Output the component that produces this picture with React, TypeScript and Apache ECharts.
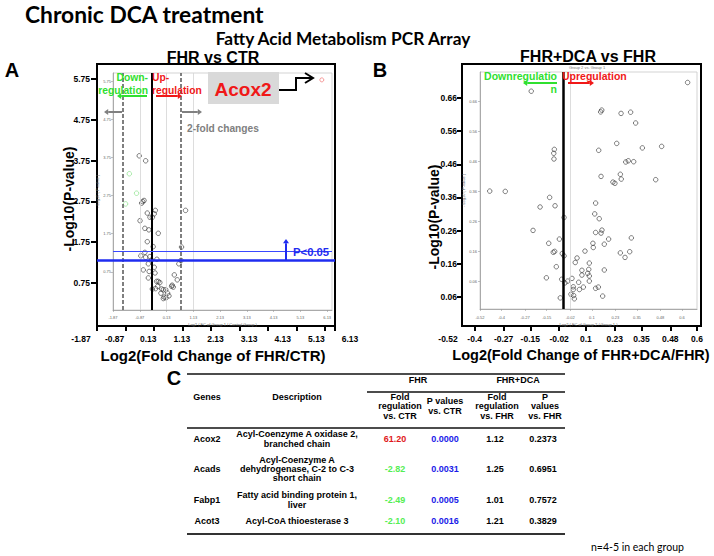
import React, { useEffect, useRef } from 'react';
import * as echarts from 'echarts';

// ---------------- Data ----------------
// Panel A tick labels (outer and inner axes)
const aTicksX = [-1.87, -0.87, 0.13, 1.13, 2.13, 3.13, 4.13, 5.13, 6.13];
const aTicksY = [0.75, 1.75, 2.75, 3.75, 4.75, 5.75];
// Panel B tick labels
const bTicksX = [-0.52, -0.4, -0.27, -0.15, -0.02, 0.1, 0.23, 0.35, 0.48, 0.6];
const bTicksY = [0.06, 0.16, 0.26, 0.36, 0.46, 0.56, 0.66];

// Panel A points: [log2 fold change, -log10 p]
const aNotChanged = [
  [-0.89, 3.79], [-0.65, 3.66], [-0.76, 2.59], [-0.8, 2.55], [-0.71, 2.62], [-0.59, 2.29],
  [-0.29, 2.36], [-0.33, 2.27], [-0.4, 2.18], [-0.49, 2.18], [-0.86, 2.09], [-0.68, 1.89],
  [-0.53, 1.85], [-0.18, 1.76], [-0.59, 1.54], [-0.37, 1.41], [-0.68, 1.26], [-0.83, 1.17],
  [-0.23, 1.08], [-0.43, 1.06], [-0.65, 1.13], [-0.49, 1.15], [-0.74, 0.8], [-0.55, 0.96],
  [-0.52, 0.76], [-0.33, 0.87], [-0.3, 0.72], [-0.55, 0.59], [-0.24, 0.5], [-0.18, 0.5],
  [-0.12, 0.47], [-0.2, 0.37], [-0.4, 0.3], [-0.28, 0.31], [-0.05, 0.3], [0.01, 0.28],
  [-0.08, 0.19], [0.1, 0.28], [0.17, 0.19], [0.04, 0.09], [0.11, 0.07], [0.22, 0.12],
  [0.01, 0.05], [0.32, 0.37], [0.34, 0.4], [0.38, 0.35], [0.42, 0.67], [0.53, 0.54],
  [0.59, 0.96], [0.67, 1.05], [0.69, 1.4], [0.84, 2.36],
];
const aDown = [[-1.26, 3.32], [-0.99, 2.81], [-1.4, 2.53]];
const aUp = [[5.93, 5.78]];

// Panel B points
const bPoints = [
  [0.631, 0.722], [-0.236, 0.693], [0.149, 0.624], [0.155, 0.63], [0.262, 0.619], [0.315, 0.623],
  [0.343, 0.587], [0.238, 0.519], [0.138, 0.496], [0.38, 0.504], [0.487, 0.509], [-0.108, 0.499],
  [-0.111, 0.486], [-0.11, 0.467], [0.302, 0.461], [0.288, 0.457], [0.332, 0.458], [0.151, 0.409],
  [0.258, 0.416], [0.263, 0.4], [0.217, 0.39], [0.228, 0.386], [0.454, 0.398], [-0.466, 0.36],
  [-0.38, 0.359], [-0.134, 0.339], [-0.187, 0.307], [-0.104, 0.311], [0.121, 0.32], [0.116, 0.284],
  [-0.054, 0.272], [0.141, 0.268], [-0.226, 0.229], [0.121, 0.222], [0.151, 0.22], [0.156, 0.23],
  [0.193, 0.2], [0.319, 0.204], [-0.08, 0.2], [-0.139, 0.186], [0.106, 0.186], [0.108, 0.172],
  [0.169, 0.183], [-0.106, 0.159], [-0.114, 0.156], [-0.064, 0.152], [-0.054, 0.144], [0.062, 0.16],
  [0.258, 0.154], [0.31, 0.158], [0.284, 0.139], [0.018, 0.137], [-0.097, 0.108], [0.008, 0.122],
  [0.086, 0.12], [0.045, 0.096], [0.083, 0.099], [0.169, 0.097], [0.077, 0.086], [0.045, 0.08],
  [0.086, 0.077], [-0.152, 0.071], [-0.067, 0.066], [-0.01, 0.069], [-0.034, 0.06], [-0.049, 0.054],
  [0.027, 0.056], [0.086, 0.06], [-0.003, 0.041], [-0.003, 0.032], [0.031, 0.032], [0.053, 0.04],
  [0.121, 0.036], [0.136, 0.04], [-0.016, 0.016], [-0.001, 0.012], [0.003, 0.001], [-0.075, 0.004],
  [0.16, 0.01],
];

// Reference lines
const pThreshold = 1.3; // -log10(0.05)
const aFoldLines = [-1.5, 0.67];
const aZeroLine = -0.415;
const aGridLines = [-0.87, 0.13, 1.13];
const bZeroLine = -0.062;
const bGridLine = -0.02;

// Table
const tableGenes = ['Acox2', 'Acads', 'Fabp1', 'Acot3'];
const tableDesc = [
  'Acyl-Coenzyme A oxidase 2,\nbranched chain',
  'Acyl-Coenzyme A\ndehydrogenase, C-2 to C-3\nshort chain',
  'Fatty acid binding protein 1,\nliver',
  'Acyl-CoA thioesterase 3',
];
const foldFHR = [61.2, -2.82, -2.49, -2.1];
const pFHR = [0.0, 0.0031, 0.0005, 0.0016];
const foldDCA = [1.12, 1.25, 1.01, 1.21];
const pDCA = [0.2373, 0.6951, 0.7572, 0.3829];

// ---------------- Styles ----------------
const ARIAL = '"Liberation Sans", Arial, sans-serif';
const CAL = 'Lato, "Open Sans", sans-serif';
const GREEN = '#2fe02f';
const RED = '#f01818';
const BLUE = '#1f2cf0';

function arrow(x1: number, y1: number, x2: number, y2: number, color: string, w: number, h = 3.5): any[] {
  const dx = x2 - x1;
  const dy = y2 - y1;
  const len = Math.hypot(dx, dy);
  const ux = dx / len;
  const uy = dy / len;
  const bx = x2 - ux * h * 1.4;
  const by = y2 - uy * h * 1.4;
  return [
    { type: 'line', z: 100, shape: { x1, y1, x2: bx, y2: by }, style: { stroke: color, lineWidth: w } },
    {
      type: 'polygon', z: 100,
      shape: { points: [[x2, y2], [bx - uy * h, by + ux * h], [bx + uy * h, by - ux * h]] },
      style: { fill: color },
    },
  ];
}

function txt(text: string, x: number, y: number, o: any = {}): any {
  return {
    type: 'text', z: 100, x, y, rotation: o.rotation || 0,
    style: {
      text,
      fill: o.color || '#000',
      fontSize: o.size || 9,
      fontWeight: o.weight || 'bold',
      fontFamily: o.family || ARIAL,
      align: o.align || 'center',
      verticalAlign: 'middle',
      lineHeight: o.lineHeight,
    },
  };
}

function hline(x1: number, x2: number, y: number, w: number, color = '#111'): any {
  return { type: 'line', z: 100, shape: { x1, y1: y, x2, y2: y }, style: { stroke: color, lineWidth: w } };
}

const pointStyle = (c: string) => ({ color: 'rgba(0,0,0,0)', borderColor: c, borderWidth: 0.8 });

export default function App() {
  const ref = useRef<HTMLDivElement>(null);
  useEffect(() => {
    if (!ref.current) return;
    const chart = echarts.init(ref.current, null, { renderer: 'svg' });

    const outerLabel = { fontSize: 8.5, fontWeight: 'bold', fontFamily: ARIAL, color: '#000' };
    const innerLabel = { fontSize: 4, fontFamily: ARIAL, color: '#666' };
    const innerName = { fontSize: 4, fontFamily: ARIAL, color: '#666' };
    const blackLine = { show: true, onZero: false, lineStyle: { color: '#000', width: 2 } };
    const grayLine = { show: true, onZero: false, lineStyle: { color: '#999', width: 0.8 } };
    const noLine = { show: false, onZero: false };

    const xAxis: any[] = [
      // 0: A frame
      {
        gridIndex: 0, type: 'value', min: 0, max: 8.35, interval: 1,
        axisLine: blackLine, axisTick: { show: true, length: 5, lineStyle: { color: '#000', width: 2 } },
        axisLabel: { show: false }, splitLine: { show: false },
      },
      // 1: A outer labels
      {
        gridIndex: 1, type: 'value', min: -1.87, max: 6.13,
        axisLine: noLine, axisTick: { show: false }, splitLine: { show: false },
        axisLabel: { ...outerLabel, margin: 8, customValues: aTicksX, showMinLabel: true, showMaxLabel: true, formatter: (v: number) => v.toFixed(2) },
      },
      // 2: A inner
      {
        gridIndex: 2, type: 'value', min: -1.87, max: 6.31,
        axisLine: grayLine, axisTick: { show: true, length: 2, customValues: aTicksX, lineStyle: { color: '#999', width: 0.6 } },
        axisLabel: { ...innerLabel, margin: 5, customValues: aTicksX, showMinLabel: true, formatter: (v: number) => v.toFixed(2) },
        splitLine: { show: false },
        name: 'Log2 ( FC of Group 1 / Control Group )', nameLocation: 'middle', nameGap: 12, nameTextStyle: innerName,
      },
      // 3: B frame
      {
        gridIndex: 3, type: 'value', min: 0, max: 1,
        axisLine: blackLine, axisTick: { show: false }, axisLabel: { show: false }, splitLine: { show: false },
      },
      // 4: B outer labels
      {
        gridIndex: 4, type: 'value', min: -0.52, max: 0.6,
        axisLine: noLine,
        axisTick: { show: true, length: 5, customValues: bTicksX.slice(1), lineStyle: { color: '#000', width: 2 } },
        splitLine: { show: false },
        axisLabel: { ...outerLabel, margin: 8, customValues: bTicksX, showMinLabel: true, showMaxLabel: true, formatter: (v: number) => String(v) },
      },
      // 5: B inner
      {
        gridIndex: 5, type: 'value', min: -0.52, max: 0.683,
        axisLine: grayLine, axisTick: { show: true, length: 2, customValues: bTicksX, lineStyle: { color: '#999', width: 0.6 } },
        axisLabel: { ...innerLabel, margin: 6, customValues: bTicksX, showMinLabel: true, formatter: (v: number) => String(v) },
        splitLine: { show: false },
        name: 'Log2 ( FC of Group 2 / Group 1 )', nameLocation: 'middle', nameGap: 13, nameTextStyle: innerName,
      },
    ];

    const yAxis: any[] = [
      {
        gridIndex: 0, type: 'value', min: -0.304, max: 6.118,
        axisLine: blackLine,
        axisTick: { show: true, length: 6, customValues: aTicksY, lineStyle: { color: '#000', width: 2 } },
        axisLabel: { ...outerLabel, margin: 7, customValues: aTicksY, formatter: (v: number) => v.toFixed(2) },
        splitLine: { show: false },
      },
      { gridIndex: 1, type: 'value', min: 0, max: 1, show: false },
      {
        gridIndex: 2, type: 'value', min: -0.25, max: 5.96,
        axisLine: grayLine, axisTick: { show: true, length: 2, customValues: aTicksY, lineStyle: { color: '#999', width: 0.6 } },
        axisLabel: { ...innerLabel, margin: 2, customValues: aTicksY, formatter: (v: number) => v.toFixed(2) },
        splitLine: { show: false },
        name: '- Log10 ( P-value )', nameLocation: 'middle', nameGap: 11, nameTextStyle: innerName,
      },
      {
        gridIndex: 3, type: 'value', min: -0.028, max: 0.7625,
        axisLine: blackLine,
        axisTick: { show: true, length: 5, customValues: bTicksY, lineStyle: { color: '#000', width: 2 } },
        axisLabel: { ...outerLabel, margin: 5, customValues: bTicksY, formatter: (v: number) => v.toFixed(2) },
        splitLine: { show: false },
      },
      { gridIndex: 4, type: 'value', min: 0, max: 1, show: false },
      {
        gridIndex: 5, type: 'value', min: -0.033, max: 0.757,
        axisLine: grayLine, axisTick: { show: true, length: 2, customValues: bTicksY, lineStyle: { color: '#999', width: 0.6 } },
        axisLabel: { ...innerLabel, margin: 3, customValues: bTicksY, formatter: (v: number) => v.toFixed(2) },
        splitLine: { show: false },
        name: '- Log10 ( P-value )', nameLocation: 'middle', nameGap: 13, nameTextStyle: innerName,
      },
    ];

    const mlBase = { silent: true, symbol: ['none', 'none'], label: { show: false }, animation: false };

    const series: any[] = [
      // thick blue P<0.05 line across A frame
      {
        type: 'line', xAxisIndex: 0, yAxisIndex: 0, symbol: 'none', silent: true,
        data: [[0, pThreshold], [8.35, pThreshold]],
        lineStyle: { color: BLUE, width: 2.5 }, z: 5,
      },
      {
        type: 'scatter', xAxisIndex: 2, yAxisIndex: 2, symbol: 'circle', symbolSize: 4.5, silent: true,
        data: aNotChanged, itemStyle: pointStyle('#333'), z: 4,
        markLine: {
          ...mlBase,
          data: [
            ...aGridLines.map((v) => ({ xAxis: v, lineStyle: { color: '#d4d4d4', width: 0.8, type: 'solid' } })),
            ...aFoldLines.map((v) => ({ xAxis: v, lineStyle: { color: '#555', width: 1.5, type: [4, 2] } })),
            { xAxis: aZeroLine, lineStyle: { color: '#000', width: 2, type: 'solid' } },
            { yAxis: pThreshold, lineStyle: { color: '#3a48ff', width: 1, type: 'solid' } },
          ],
        },
      },
      {
        type: 'scatter', xAxisIndex: 2, yAxisIndex: 2, symbol: 'circle', symbolSize: 4.5, silent: true,
        data: aDown, itemStyle: pointStyle('#7be07b'), z: 4,
      },
      {
        type: 'scatter', xAxisIndex: 2, yAxisIndex: 2, symbol: 'circle', symbolSize: 4, silent: true,
        data: aUp, itemStyle: pointStyle('#f06060'), z: 4,
      },
      {
        type: 'scatter', xAxisIndex: 5, yAxisIndex: 5, symbol: 'circle', symbolSize: 4.5, silent: true,
        data: bPoints, itemStyle: pointStyle('#333'), z: 4,
        markLine: {
          ...mlBase,
          data: [
            { xAxis: bGridLine, lineStyle: { color: '#d4d4d4', width: 0.8, type: 'solid' } },
            { xAxis: bZeroLine, lineStyle: { color: '#000', width: 2.5, type: 'solid' } },
          ],
        },
      },
    ];

    // Table graphics
    const rowY = [439, 469, 500, 521];
    const colX = { gene: 207, desc: 297, f1: 395, p1: 445, f2: 495, p2: 543 };
    const TS = 9;
    const table: any[] = [
      hline(187, 565, 374, 1.5),
      hline(367, 565, 392, 1.5),
      hline(187, 565, 428, 1.5),
      hline(187, 565, 534, 2, '#333'),
      txt('FHR', 418, 380, { size: TS }),
      txt('FHR+DCA', 518, 380, { size: TS }),
      txt('Genes', 207, 397, { size: TS }),
      txt('Description', 297, 397, { size: TS }),
      txt('Fold\nregulation\nvs. CTR', 400, 406, { size: TS, lineHeight: 9.5 }),
      txt('P values\nvs. CTR', 445, 406, { size: TS, lineHeight: 9.5 }),
      txt('Fold\nregulation\nvs. FHR', 497, 406, { size: TS, lineHeight: 9.5 }),
      txt('P\nvalues\nvs. FHR', 545, 406, { size: TS, lineHeight: 9.5 }),
    ];
    tableGenes.forEach((g, i) => {
      const y = rowY[i];
      table.push(txt(g, colX.gene, y, { size: TS }));
      table.push(txt(tableDesc[i], colX.desc, y, { size: TS, lineHeight: 9.3 }));
      table.push(txt(foldFHR[i].toFixed(2), colX.f1, y, { size: TS, color: foldFHR[i] > 0 ? '#e01820' : '#55ee55' }));
      table.push(txt(pFHR[i].toFixed(4), colX.p1, y, { size: TS, color: '#1a1ae8' }));
      table.push(txt(foldDCA[i].toFixed(2), colX.f2, y, { size: TS }));
      table.push(txt(pDCA[i].toFixed(4), colX.p2, y, { size: TS }));
    });

    const graphics: any[] = [
      // Titles
      txt('Chronic DCA treatment', 25, 14, { size: 22.8, family: CAL, align: 'left' }),
      txt('Fatty Acid Metabolism PCR Array', 343, 38, { size: 17.3, family: CAL }),
      txt('FHR vs CTR', 213, 57, { size: 16 }),
      txt('FHR+DCA vs FHR', 588, 56, { size: 16 }),
      txt('A', 12, 70, { size: 20 }),
      txt('B', 380, 70, { size: 20 }),
      txt('C', 174, 378, { size: 20 }),
      txt('Group 2 vs. Group 1', 587, 67.5, { size: 4, weight: 'normal', color: '#777' }),
      // Axis titles
      txt('-Log10(P-value)', 69, 199, { size: 14, rotation: Math.PI / 2 }),
      txt('Log2(Fold Change of FHR/CTR)', 213, 355, { size: 15 }),
      txt('-Log10(P-value)', 434, 217, { size: 14, rotation: Math.PI / 2 }),
      txt('Log2(Fold Change of FHR+DCA/FHR)', 581, 355, { size: 14.5 }),
      // Panel A annotations
      txt('Down-', 148, 77, { size: 10.3, color: GREEN, align: 'right' }),
      txt('regulation', 148, 90, { size: 10.3, color: GREEN, align: 'right' }),
      txt('Up-', 152, 77, { size: 10.3, color: RED, align: 'left' }),
      txt('regulation', 152, 90, { size: 10.3, color: RED, align: 'left' }),
      ...arrow(147, 96, 117, 96, GREEN, 2, 3),
      ...arrow(156, 96, 182, 96, RED, 2, 3),
      ...arrow(122, 112, 104, 112, '#808080', 2, 3),
      ...arrow(182, 112, 202, 112, '#808080', 2, 3),
      txt('2-fold changes', 187, 128, { size: 10.2, color: '#808080', align: 'left' }),
      { type: 'rect', z: 99, shape: { x: 208, y: 72, width: 71, height: 32 }, style: { fill: '#d9d9d9' } },
      txt('Acox2', 243, 89, { size: 19, color: RED }),
      {
        type: 'polyline', z: 100,
        shape: { points: [[279, 90], [296, 90], [296, 78], [312, 78]] },
        style: { stroke: '#000', lineWidth: 2, fill: null },
      },
      {
        type: 'polyline', z: 100,
        shape: { points: [[305, 73], [313, 78], [305, 83]] },
        style: { stroke: '#000', lineWidth: 2, fill: null },
      },
      ...arrow(286, 260, 286, 239, BLUE, 2, 3),
      txt('P<0.05', 293, 252, { size: 11.3, color: BLUE, align: 'left' }),
      // Panel B annotations
      txt('Downregulatio', 557, 76, { size: 10.5, color: GREEN, align: 'right' }),
      txt('n', 557, 89, { size: 10.5, color: GREEN, align: 'right' }),
      txt('Upregulation', 562, 76, { size: 10.5, color: RED, align: 'left' }),
      ...arrow(557, 83, 523, 83, GREEN, 2, 3),
      ...arrow(568, 83, 594, 83, RED, 2, 3),
      // Table
      ...table,
      txt('n=4-5 in each group', 591, 547, { size: 10.5, family: CAL, weight: 'normal', align: 'left' }),
    ];

    const option: any = {
      animation: false,
      backgroundColor: '#fff',
      grid: [
        { left: 97, top: 64, width: 238, height: 262, show: true, borderColor: '#000', borderWidth: 2, backgroundColor: 'rgba(0,0,0,0)' },
        { left: 81, top: 64, width: 269, height: 262, show: false },
        { left: 113, top: 73, width: 219, height: 237, show: true, borderColor: '#c8c8c8', borderWidth: 0.8, backgroundColor: 'rgba(0,0,0,0)' },
        { left: 462, top: 64, width: 239, height: 262, show: true, borderColor: '#000', borderWidth: 2, backgroundColor: 'rgba(0,0,0,0)' },
        { left: 448, top: 64, width: 249, height: 262, show: false },
        { left: 480, top: 72, width: 217, height: 237, show: true, borderColor: '#c8c8c8', borderWidth: 0.8, backgroundColor: 'rgba(0,0,0,0)' },
      ],
      xAxis,
      yAxis,
      series,
      graphic: { elements: graphics },
    };
    chart.setOption(option);
    return () => chart.dispose();
  }, []);

  return <div ref={ref} style={{ position: 'absolute', left: 0, top: 0, width: 714, height: 556 }} />;
}
